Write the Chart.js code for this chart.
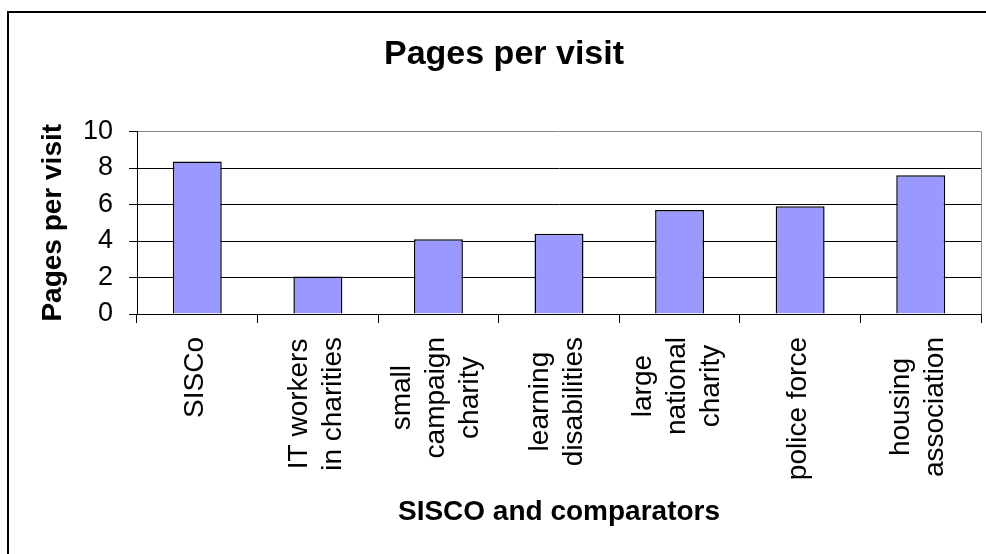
<!DOCTYPE html>
<html>
<head>
<meta charset="utf-8">
<script src="https://cdn.jsdelivr.net/npm/chart.js@4.4.0/dist/chart.umd.min.js"></script>
<style>
  html, body { margin: 0; padding: 0; background: #fff; overflow: hidden; }
  #frame { position: absolute; left: 7px; top: 11px; width: 990px; height: 560px;
           border: 2px solid #000; background: #fff; }
  #myChart { display: block; }
</style>
</head>
<body>
<div id="frame">
  <canvas id="myChart" width="990" height="541"></canvas>
</div>

<script>
// chart data
var categories = [
  ['SISCo'],
  ['IT workers', 'in charities'],
  ['small', 'campaign', 'charity'],
  ['learning', 'disabilities'],
  ['large', 'national', 'charity'],
  ['police force'],
  ['housing', 'association']
];
var pagesPerVisit = [8.35, 2.05, 4.1, 4.4, 5.7, 5.9, 7.6];
var yTicks = [0, 2, 4, 6, 8, 10];

var FONT = "'Liberation Sans', Arial, sans-serif";

// Excel style category labels: rotated, lines centred on each other
var centredLabels = {
  id: 'centredLabels',
  afterDraw: function(chart) {
    var ctx = chart.ctx;
    var xs = chart.scales.x;
    var lh = 34;
    var top = chart.chartArea.bottom + 23;
    ctx.save();
    ctx.font = '28px ' + FONT;
    ctx.fillStyle = '#000';
    ctx.textAlign = 'center';
    ctx.textBaseline = 'middle';
    categories.forEach(function(lines, i) {
      var w = 0;
      lines.forEach(function(l) { w = Math.max(w, ctx.measureText(l).width); });
      ctx.save();
      ctx.translate(xs.getPixelForValue(i) - 2, top + w / 2);
      ctx.rotate(-Math.PI / 2);
      lines.forEach(function(l, j) {
        ctx.fillText(l, 0, (j - (lines.length - 1) / 2) * lh);
      });
      ctx.restore();
    });
    ctx.restore();
  }
};

// grey plot-area edge on the right
var plotEdge = {
  id: 'plotEdge',
  afterDatasetsDraw: function(chart) {
    var a = chart.chartArea, ctx = chart.ctx;
    ctx.save();
    ctx.strokeStyle = '#888';
    ctx.lineWidth = 1;
    ctx.beginPath();
    ctx.moveTo(Math.round(a.right) + 0.5, a.top);
    ctx.lineTo(Math.round(a.right) + 0.5, a.bottom);
    ctx.stroke();
    ctx.restore();
  }
};

var ctx = document.getElementById('myChart').getContext('2d');
var myChart = new Chart(ctx, {
  type: 'bar',
  data: {
    labels: categories.map(function(c) { return c.join(' '); }),
    datasets: [{
      label: 'Pages per visit',
      data: pagesPerVisit,
      backgroundColor: '#9999FF',
      borderColor: '#000',
      borderWidth: 1.5,
      barPercentage: 0.406,
      categoryPercentage: 1.0
    }]
  },
  options: {
    responsive: false,
    animation: false,
    // equal side padding keeps the title centred on the whole frame
    layout: { padding: { left: 18, right: 18, top: 0, bottom: 0 } },
    plugins: {
      legend: { display: false },
      tooltip: { enabled: false },
      title: {
        display: true,
        text: 'Pages per visit',
        color: '#000',
        font: { family: FONT, size: 34, weight: 'bold', lineHeight: 1.2 },
        padding: { top: 21, bottom: 56.7 }
      }
    },
    scales: {
      x: {
        grid: { display: true, drawOnChartArea: false, offset: true, color: '#000', tickLength: 9 },
        border: { color: '#000', width: 1 },
        ticks: { display: false },
        title: {
          display: true,
          text: 'SISCO and comparators',
          color: '#000',
          font: { family: FONT, size: 28, weight: 'bold', lineHeight: 1.2 },
          padding: { top: 0, bottom: 25.2 }
        },
        afterFit: function(scale) { scale.height = 240; }
      },
      y: {
        min: 0,
        max: 10,
        afterBuildTicks: function(scale) {
          scale.ticks = yTicks.map(function(v) { return { value: v }; });
        },
        grid: {
          color: function(c) { return c.tick && c.tick.value === 10 ? '#888' : '#000'; },
          tickColor: '#000',
          tickLength: 8
        },
        border: { color: '#000', width: 1 },
        ticks: {
          color: '#000',
          padding: 16,
          font: { family: FONT, size: 27 }
        },
        title: {
          display: true,
          text: 'Pages per visit',
          color: '#000',
          font: { family: FONT, size: 28, weight: 'bold', lineHeight: 1.2 },
          padding: { top: 9, bottom: 0 }
        },
        afterFit: function(scale) { scale.width = 110; }
      }
    }
  },
  plugins: [centredLabels, plotEdge]
});
</script>
</body>
</html>
